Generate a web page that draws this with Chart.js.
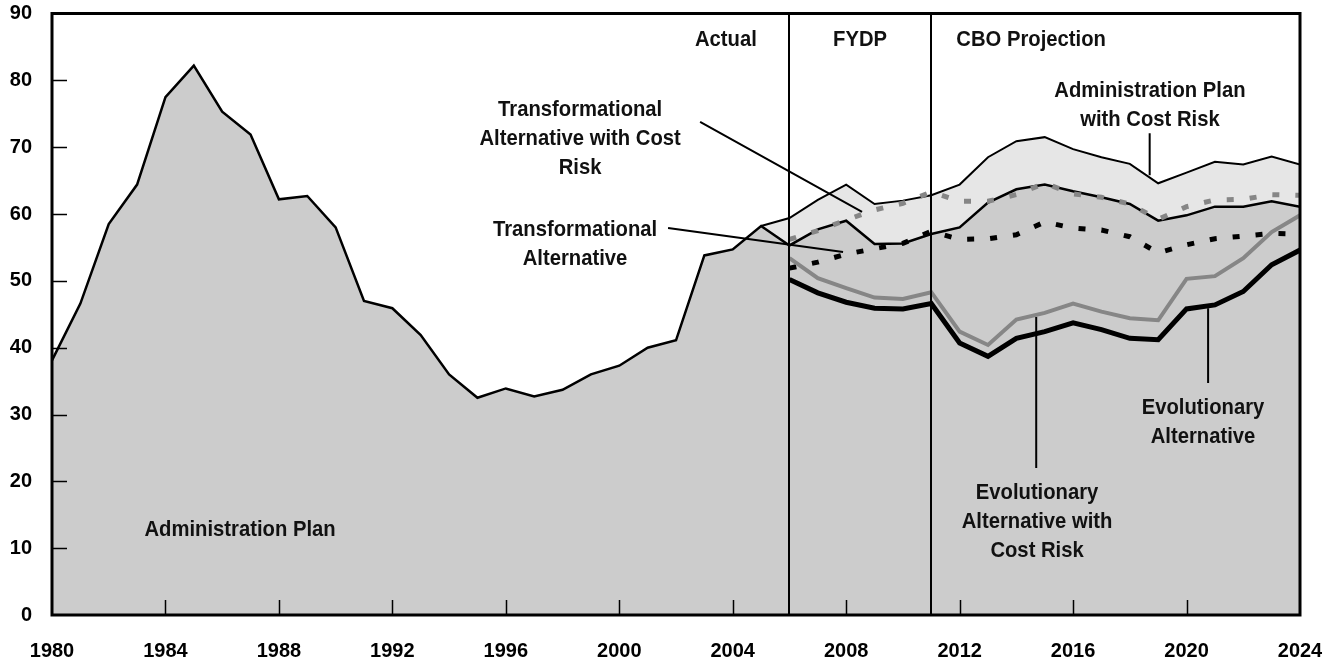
<!DOCTYPE html>
<html>
<head>
<meta charset="utf-8">
<script src="https://cdn.jsdelivr.net/npm/chart.js@4.4.1/dist/chart.umd.min.js"></script>
<style>
  html, body { margin: 0; padding: 0; background: #fff; }
  #wrap { width: 1334px; height: 664px; }
</style>
</head>
<body>
<div id="wrap"><canvas id="chart" width="1334" height="664"></canvas></div>
<script>
// Budget chart, 1980-2024: actual, FYDP and CBO projection.
// Values.

const years = [
  1980, 1981, 1982, 1983, 1984, 1985, 1986, 1987, 1988, 1989,
  1990, 1991, 1992, 1993, 1994, 1995, 1996, 1997, 1998, 1999,
  2000, 2001, 2002, 2003, 2004, 2005, 2006, 2007, 2008, 2009,
  2010, 2011, 2012, 2013, 2014, 2015, 2016, 2017, 2018, 2019,
  2020, 2021, 2022, 2023, 2024,
];
const adminPlan = [
  38.1, 46.6, 58.5, 64.4, 77.5, 82.2, 75.3, 71.9, 62.2, 62.7,
  58.0, 47.0, 45.9, 41.9, 36.0, 32.5, 33.9, 32.7, 33.7, 36.0,
  37.3, 40.0, 41.1, 53.8, 54.7, 58.2, 55.3, 57.7, 59.0, 55.5,
  55.6, 57.0, 58.0, 61.7, 63.7, 64.4, 63.4, 62.5, 61.5, 59.0,
  59.8, 61.1, 61.1, 61.9, 61.1,
];

// cost-risk band starts where the actuals end
const riskYears = [
  2005, 2006, 2007, 2008, 2009, 2010, 2011, 2012, 2013, 2014,
  2015, 2016, 2017, 2018, 2019, 2020, 2021, 2022, 2023, 2024,
];
const adminPlanRisk = [
  58.2, 59.4, 62.1, 64.4, 61.5, 62.0, 62.8, 64.4, 68.5, 70.9,
  71.5, 69.7, 68.5, 67.5, 64.6, 66.2, 67.8, 67.4, 68.6, 67.4,
];

const projYears = [
  2006, 2007, 2008, 2009, 2010, 2011, 2012, 2013, 2014, 2015,
  2016, 2017, 2018, 2019, 2020, 2021, 2022, 2023, 2024,
];
const transformRisk = [
  56.2, 57.5, 59.1, 60.6, 61.6, 63.3, 61.9, 61.9, 62.9, 64.6,
  63.0, 62.5, 61.5, 59.2, 61.1, 62.1, 62.2, 62.9, 62.8,
];
const transform = [
  51.9, 52.8, 54.0, 54.8, 55.6, 57.4, 56.2, 56.3, 56.9, 58.8,
  57.9, 57.6, 56.6, 54.2, 55.4, 56.3, 56.7, 57.1, 57.0,
];
const evolRisk = [
  53.4, 50.4, 48.9, 47.5, 47.3, 48.3, 42.4, 40.4, 44.2, 45.2,
  46.6, 45.4, 44.4, 44.1, 50.3, 50.7, 53.4, 57.3, 59.8,
];
const evol = [
  50.2, 48.2, 46.8, 45.9, 45.8, 46.6, 40.7, 38.7, 41.4, 42.4,
  43.7, 42.7, 41.4, 41.2, 45.8, 46.4, 48.4, 52.4, 54.6,
];

const xTicks = [1980, 1984, 1988, 1992, 1996, 2000, 2004, 2008, 2012, 2016, 2020, 2024];
const yTicks = [0, 10, 20, 30, 40, 50, 60, 70, 80, 90];
const periodBreaks = [2006, 2011];

// Annotation text blocks: anchor in data units, lines drawn downward.
const labels = [
  { x: 2003.76, y: 86.0, lines: ['Actual'] },
  { x: 2008.49, y: 86.0, lines: ['FYDP'] },
  { x: 2014.52, y: 86.0, lines: ['CBO Projection'] },
  { x: 2018.71, y: 78.4, lines: ['Administration Plan', 'with Cost Risk'] },
  { x: 1998.62, y: 75.6, lines: ['Transformational', 'Alternative with Cost', 'Risk'] },
  { x: 1998.44, y: 57.6, lines: ['Transformational', 'Alternative'] },
  { x: 2020.58, y: 31.0, lines: ['Evolutionary', 'Alternative'] },
  { x: 2014.73, y: 18.3, lines: ['Evolutionary', 'Alternative with', 'Cost Risk'] },
  { x: 1986.63, y: 12.7, lines: ['Administration Plan'] },
];
const leaders = [
  [[2002.85, 73.8], [2008.56, 60.3]],
  [[2001.72, 57.9], [2007.89, 54.3]],
  [[2018.70, 72.1], [2018.70, 65.8]],
  [[2020.76, 45.9], [2020.76, 34.7]],
  [[2014.70, 44.6], [2014.70, 22.0]],
];

const pts = (xs, ys) => xs.map((x, i) => ({ x, y: ys[i] }));

// no narrow face installed, so squeeze the bold sans a bit
const FONT = '"Liberation Sans", Arial, sans-serif';
const SQUEEZE = 0.92;

const line = (data, color, width, extra = {}) => Object.assign({
  data,
  borderColor: color,
  borderWidth: width,
  pointRadius: 0,
  tension: 0,
  fill: false,
  borderCapStyle: 'butt',
  borderJoinStyle: 'miter',
}, extra);

// frame, inward tick marks, period dividers, leader lines and text
const decor = {
  id: 'decor',
  afterDatasetsDraw(chart) {
    const { ctx, chartArea: a, scales: { x, y } } = chart;
    ctx.save();
    ctx.strokeStyle = '#000';
    ctx.lineWidth = 1.5;
    ctx.beginPath();
    for (const v of yTicks) {
      if (v === 0 || v === 90) continue;
      const py = Math.round(y.getPixelForValue(v)) + 0.5;
      ctx.moveTo(a.left, py);
      ctx.lineTo(a.left + 15, py);
    }
    for (const v of xTicks) {
      if (v === 1980 || v === 2024) continue;
      const px = Math.round(x.getPixelForValue(v)) + 0.5;
      ctx.moveTo(px, a.bottom);
      ctx.lineTo(px, a.bottom - 15);
    }
    ctx.stroke();

    ctx.lineWidth = 2;
    ctx.beginPath();
    for (const v of periodBreaks) {
      const px = Math.round(x.getPixelForValue(v));
      ctx.moveTo(px, a.top);
      ctx.lineTo(px, a.bottom);
    }
    for (const [p0, p1] of leaders) {
      ctx.moveTo(x.getPixelForValue(p0[0]), y.getPixelForValue(p0[1]));
      ctx.lineTo(x.getPixelForValue(p1[0]), y.getPixelForValue(p1[1]));
    }
    ctx.stroke();

    ctx.lineWidth = 3;
    ctx.strokeRect(a.left, a.top, a.right - a.left, a.bottom - a.top);

    ctx.fillStyle = '#111';
    ctx.font = `bold 22px ${FONT}`;
    ctx.textAlign = 'center';
    ctx.textBaseline = 'middle';
    for (const lb of labels) {
      const cx = x.getPixelForValue(lb.x);
      const cy = y.getPixelForValue(lb.y);
      lb.lines.forEach((t, i) => {
        ctx.save();
        ctx.translate(cx, cy + i * 29);
        ctx.scale(SQUEEZE, 1);
        ctx.fillText(t, 0, 0);
        ctx.restore();
      });
    }
    ctx.restore();
  },
};

new Chart(document.getElementById('chart'), {
  type: 'line',
  data: {
    datasets: [
      line(pts(riskYears, adminPlanRisk), '#000', 2, { fill: 'origin', backgroundColor: '#e6e6e6', order: 10 }),
      line(pts(years, adminPlan), '#000', 2.5, { fill: 'origin', backgroundColor: '#cccccc', order: 9 }),
      line(pts(projYears, transformRisk), '#868686', 5, { borderDash: [7, 16], order: 4 }),
      line(pts(projYears, transform), '#000', 5, { borderDash: [7, 16], order: 3 }),
      line(pts(projYears, evolRisk), '#868686', 4, { order: 2 }),
      line(pts(projYears, evol), '#000', 5, { order: 1 }),
    ],
  },
  options: {
    responsive: false,
    animation: false,
    events: [],
    layout: { padding: { top: 13.5, right: 34, bottom: 0, left: 0 } },
    plugins: { legend: { display: false }, tooltip: { enabled: false } },
    scales: {
      x: {
        type: 'linear',
        min: 1980,
        max: 2024,
        afterFit: s => { s.height = 49; s.paddingLeft = 0; s.paddingRight = 0; },
        afterBuildTicks: s => { s.ticks = xTicks.map(v => ({ value: v })); },
        grid: { display: false, drawTicks: false },
        border: { display: false },
        ticks: {
          callback: v => String(v),
          color: '#000',
          padding: 24,
          maxRotation: 0,
          autoSkip: false,
          font: { family: FONT, weight: 'bold', size: 20 },
        },
      },
      y: {
        min: 0,
        max: 90,
        afterFit: s => { s.width = 52; s.paddingTop = 0; s.paddingBottom = 0; },
        afterBuildTicks: s => { s.ticks = yTicks.map(v => ({ value: v })); },
        grid: { display: false, drawTicks: false },
        border: { display: false },
        ticks: {
          callback: v => String(v),
          color: '#000',
          padding: 20,
          font: { family: FONT, weight: 'bold', size: 20 },
        },
      },
    },
  },
  plugins: [decor],
});
</script>
</body>
</html>
